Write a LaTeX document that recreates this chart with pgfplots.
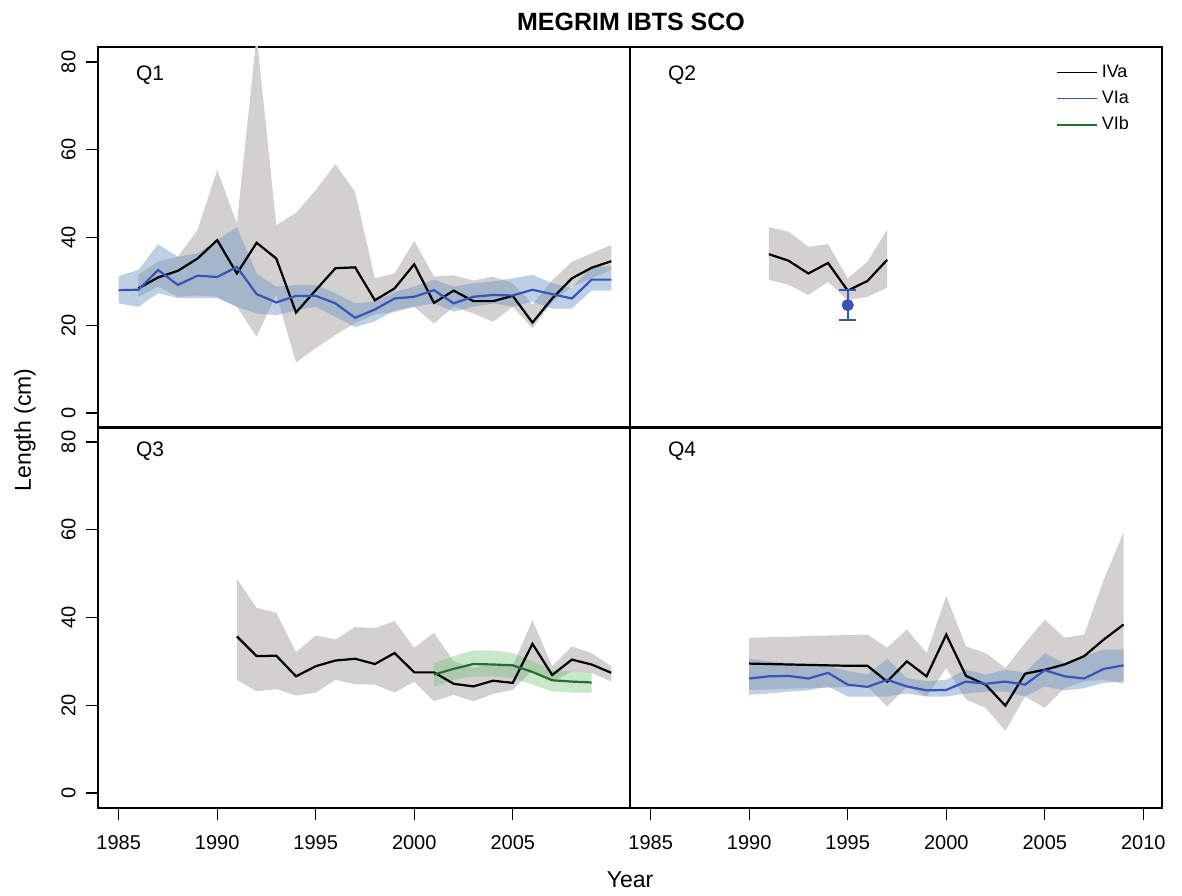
\documentclass[border=0pt]{standalone}
\usepackage{pgfplots}
\usepackage{pgfplotstable}
\pgfplotsset{compat=1.18}
\usepgfplotslibrary{fillbetween}
\usepackage{fontspec}
\setmainfont{Liberation Sans}

\definecolor{bandgray}{RGB}{211,208,208}
\definecolor{bandblue}{RGB}{110,150,195}
\definecolor{bandgreen}{RGB}{120,195,120}
\definecolor{lineblue}{RGB}{55,85,185}
\definecolor{linegreen}{RGB}{35,110,50}

% year mean lo hi
\pgfplotstableread{
yr mean lo hi
1986 28.4 26.5 31.5
1987 30.9 28.8 34.5
1988 32.4 26.5 35.6
1989 35.2 26.8 41.7
1990 39.4 26.5 55.4
1991 31.8 24.2 43.2
1992 38.8 17.4 86.0
1993 35.2 27.0 42.8
1994 22.9 11.5 45.6
1995 28.0 14.8 50.8
1996 33.0 17.8 56.7
1997 33.2 20.5 50.4
1998 25.7 22.5 30.7
1999 28.4 23.0 31.8
2000 33.9 24.2 39.2
2001 25.1 20.4 31.1
2002 27.9 24.2 31.4
2003 25.5 22.7 30.2
2004 25.5 20.8 31.1
2005 26.7 24.2 29.6
2006 20.6 19.3 24.7
2007 26.1 25.3 30.2
2008 30.7 28.8 34.5
2009 33.1 30.7 36.4
2010 34.6 32.6 38.3
}\qoneIVa
\pgfplotstableread{
yr mean lo hi
1985 28.0 25.0 31.2
1986 28.1 24.2 32.6
1987 32.6 27.3 38.5
1988 29.2 26.2 35.6
1989 31.3 26.2 36.4
1990 31.0 26.2 39.4
1991 33.3 24.2 42.4
1992 27.1 22.7 31.8
1993 25.2 22.3 28.8
1994 26.7 23.4 29.2
1995 26.7 24.2 29.2
1996 25.0 21.9 27.3
1997 21.7 19.6 25.0
1998 23.6 20.9 25.4
1999 26.1 23.4 27.6
2000 26.5 24.2 28.8
2001 28.0 25.0 30.4
2002 25.0 23.1 28.8
2003 26.5 24.2 29.6
2004 26.9 25.0 30.0
2005 26.8 24.2 30.7
2006 28.1 25.4 31.5
2007 27.1 23.8 29.6
2008 26.1 23.8 28.5
2009 30.4 27.9 33.4
2010 30.4 27.9 33.4
}\qoneVIa
\pgfplotstableread{
yr mean lo hi
1991 36.2 30.4 42.4
1992 34.7 29.2 41.3
1993 31.8 26.9 37.9
1994 34.2 29.9 38.5
1995 27.9 25.7 30.7
1996 30.1 26.5 34.5
1997 34.9 28.6 41.8
}\qtwoIVa
\pgfplotstableread{
yr mean lo hi
1991 35.7 25.8 48.8
1992 31.2 23.2 42.2
1993 31.3 23.7 41.1
1994 26.6 22.2 32.1
1995 28.9 22.9 35.9
1996 30.2 25.8 35.0
1997 30.6 24.8 37.8
1998 29.4 24.7 37.6
1999 31.9 22.9 39.2
2000 27.5 25.4 33.1
2001 27.5 20.9 36.5
2002 24.9 22.4 30.0
2003 24.3 20.9 28.5
2004 25.6 22.6 29.5
2005 25.1 23.5 29.0
2006 34.0 28.0 39.4
2007 26.9 25.4 28.9
2008 30.4 27.7 33.4
2009 29.3 27.4 31.9
2010 27.4 25.4 28.9
}\qthreeIVa
\pgfplotstableread{
yr mean lo hi
2001 27.0 24.2 29.6
2002 28.3 25.8 31.2
2003 29.4 26.6 32.5
2004 29.3 26.6 32.5
2005 29.1 26.2 31.9
2006 27.6 24.7 30.1
2007 25.7 23.2 28.1
2008 25.4 22.9 27.7
2009 25.2 22.9 27.5
}\qthreeVIb
\pgfplotstableread{
yr mean lo hi
1990 29.5 23.5 35.4
1991 29.4 23.6 35.5
1992 29.3 23.8 35.6
1993 29.2 23.9 35.8
1994 29.1 24.0 35.9
1995 29.0 24.2 36.0
1996 29.0 24.3 36.1
1997 25.4 19.7 33.1
1998 30.0 24.3 37.3
1999 26.6 22.0 31.9
2000 36.1 28.5 44.9
2001 26.7 21.3 33.4
2002 24.7 19.4 31.9
2003 19.9 14.2 28.5
2004 27.2 22.0 34.2
2005 28.1 19.4 39.5
2006 29.3 23.9 35.4
2007 31.2 25.4 36.1
2008 35.0 25.8 48.7
2009 38.4 24.9 59.4
}\qfourIVa
\pgfplotstableread{
yr mean lo hi
1990 26.1 22.4 30.6
1991 26.6 22.7 30.0
1992 26.7 23.1 29.6
1993 26.1 23.4 29.3
1994 27.4 24.3 28.9
1995 24.7 22.0 27.8
1996 24.2 22.0 27.0
1997 25.8 22.0 30.6
1998 24.3 22.7 26.2
1999 23.4 22.0 25.5
2000 23.5 22.0 25.8
2001 25.4 22.7 28.1
2002 24.9 23.1 27.0
2003 25.4 23.1 28.1
2004 24.7 22.0 27.4
2005 28.0 24.3 31.9
2006 26.6 23.4 29.6
2007 26.1 23.9 31.2
2008 28.3 25.1 32.7
2009 29.1 25.5 32.7
}\qfourVIa

\pgfplotsset{
  panel/.style={
    scale only axis, width=266pt, height=190.5pt,
    xmin=1983.95, xmax=2010.95, ymin=-3.4, ymax=83.4,
    axis line style={line width=0.6pt},
    tick style={line width=0.6pt, black},
    tick align=outside, major tick length=6pt,
    /pgf/number format/assume math mode=true,
    /pgf/number format/1000 sep={},
    ticklabel style={font=\fontsize{10}{12}\selectfont},
    yticklabel style={rotate=90, anchor=south, inner ysep=5pt},
    xticklabel style={yshift=-4pt},
    clip=true,
  },
}

\newcommand{\bandplot}[4]{% table, name, color, opacity
  \addplot[name path=#2hi, draw=none, forget plot] table[x=yr, y=hi]{#1};
  \addplot[name path=#2lo, draw=none, forget plot] table[x=yr, y=lo]{#1};
  \addplot[fill=#3, fill opacity=#4, draw=none, forget plot] fill between[of=#2hi and #2lo];
}

\begin{document}
\begin{tikzpicture}

% Q1
\begin{axis}[panel, at={(49pt,233.5pt)}, anchor=south west,
  xtick=\empty, ytick={0,20,40,60,80}, ytick pos=left]
  \bandplot{\qoneIVa}{aa}{bandgray}{1}
  \bandplot{\qoneVIa}{ab}{bandblue}{0.45}
  \addplot[black, line width=1.1pt] table[x=yr, y=mean]{\qoneIVa};
  \addplot[lineblue, line width=1.1pt] table[x=yr, y=mean]{\qoneVIa};
  \node[font=\fontsize{10.5}{12}\selectfont] at (rel axis cs:0.098,0.926) {Q1};
\end{axis}

% Q2
\begin{axis}[panel, at={(315pt,233.5pt)}, anchor=south west,
  xtick=\empty, ytick=\empty,
  legend style={draw=none, fill=none, at={(rel axis cs:0.800,0.965)}, anchor=north west,
    font=\fontsize{9}{11}\selectfont, row sep=1.3pt, inner sep=0pt},
  legend cell align=left,
  legend image code/.code={\draw[#1] (0pt,0pt) -- (20pt,0pt);}]
  \bandplot{\qtwoIVa}{ba}{bandgray}{1}
  \addplot[black, line width=1.1pt, forget plot] table[x=yr, y=mean]{\qtwoIVa};
  \addplot[lineblue, line width=0.8pt, mark=*, mark size=2.6pt, forget plot,
    error bars/.cd, y dir=both, y explicit,
    error bar style={line width=0.8pt, lineblue},
    error mark options={rotate=90, mark size=4.3pt, line width=0.8pt, lineblue}]
    coordinates {(1995,24.6) +- (0,3.4)};
  \addlegendimage{black, line width=0.9pt}
  \addlegendentry{IVa}
  \addlegendimage{lineblue, line width=0.9pt}
  \addlegendentry{VIa}
  \addlegendimage{linegreen, line width=0.9pt}
  \addlegendentry{VIb}
  \node[font=\fontsize{10.5}{12}\selectfont] at (rel axis cs:0.098,0.926) {Q2};
\end{axis}

% Q3
\begin{axis}[panel, at={(49pt,43.5pt)}, anchor=south west,
  xtick={1985,1990,1995,2000,2005}, xtick pos=bottom,
  ytick={0,20,40,60,80}, ytick pos=left]
  \bandplot{\qthreeIVa}{ca}{bandgray}{1}
  \bandplot{\qthreeVIb}{cb}{bandgreen}{0.4}
  \addplot[black, line width=1.1pt] table[x=yr, y=mean]{\qthreeIVa};
  \addplot[linegreen, line width=1.1pt] table[x=yr, y=mean]{\qthreeVIb};
  \node[font=\fontsize{10.5}{12}\selectfont] at (rel axis cs:0.098,0.937) {Q3};
\end{axis}

% Q4
\begin{axis}[panel, at={(315pt,43.5pt)}, anchor=south west,
  xtick={1985,1990,1995,2000,2005,2010}, xtick pos=bottom,
  ytick=\empty]
  \bandplot{\qfourIVa}{da}{bandgray}{1}
  \bandplot{\qfourVIa}{db}{bandblue}{0.45}
  \addplot[black, line width=1.1pt] table[x=yr, y=mean]{\qfourIVa};
  \addplot[lineblue, line width=1.1pt] table[x=yr, y=mean]{\qfourVIa};
  \node[font=\fontsize{10.5}{12}\selectfont] at (rel axis cs:0.098,0.937) {Q4};
\end{axis}

\node[font=\bfseries\fontsize{12.5}{14}\selectfont] at (315.5pt,436.5pt) {MEGRIM IBTS SCO};
\node[font=\fontsize{11.5}{13}\selectfont, rotate=90] at (12.5pt,232.5pt) {Length (cm)};
\node[font=\fontsize{11.5}{13}\selectfont] at (315pt,7.5pt) {Year};
\path (0,0) rectangle (591pt,447.5pt);
\end{tikzpicture}
\end{document}
